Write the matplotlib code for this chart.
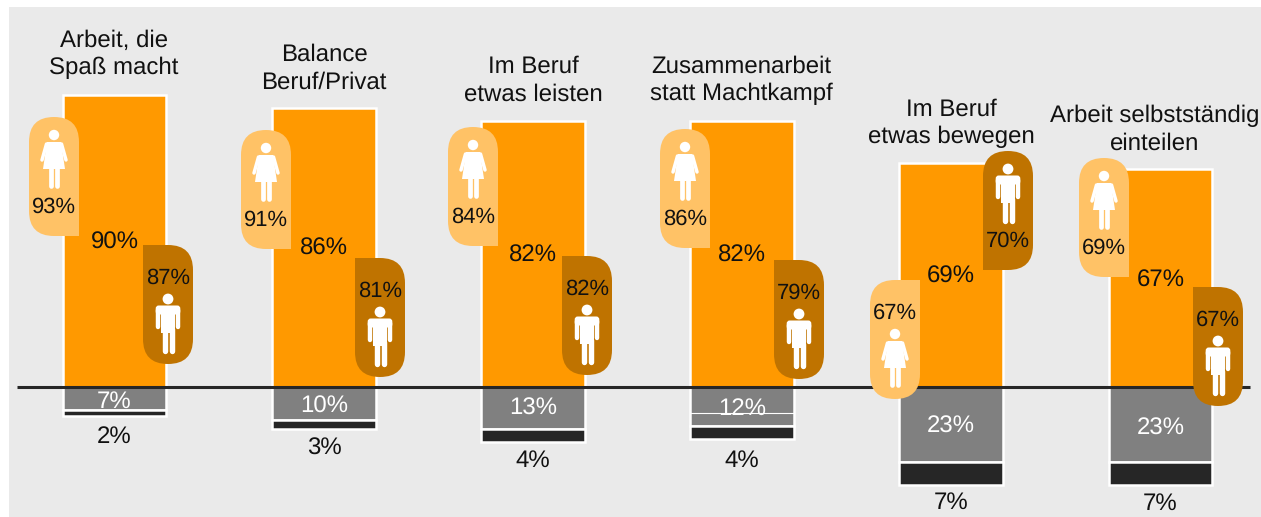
import matplotlib
matplotlib.use("Agg")
import matplotlib.pyplot as plt
from matplotlib.patches import Circle, FancyBboxPatch, PathPatch, Polygon, Rectangle
from matplotlib.path import Path

plt.rcParams["font.family"] = ["Liberation Sans", "DejaVu Sans"]
plt.rcParams["text.hinting"] = "no_hinting"
plt.rcParams["text.hinting_factor"] = 1

# values
titles = [
    "Arbeit, die\nSpaß macht",
    "Balance\nBeruf/Privat",
    "Im Beruf\netwas leisten",
    "Zusammenarbeit\nstatt Machtkampf",
    "Im Beruf\netwas bewegen",
    "Arbeit selbstständig\neinteilen",
]
total = [90, 86, 82, 82, 69, 67]
women = [93, 91, 84, 86, 67, 69]
men = [87, 81, 82, 79, 70, 67]
neg_grey = [7, 10, 13, 12, 23, 23]
neg_dark = [2, 3, 4, 4, 7, 7]

# layout, in pixels of the 1261x517 picture
W, H = 1261, 517
BASE_Y = 387
PX_PER_PCT = 3.25
bar_x = [114.5, 324, 533, 742, 951, 1160.5]
bar_w = 103.5
title_x = [114, 324, 533, 741, 951, 1155]
title_y = [54.5, 68.5, 80.5, 80.5, 123.5, 129.5]
total_y = [243, 249, 256, 256, 277, 281]
grey_y = [402, 407, 409, 409, 427, 429]
dark_y = [437, 449, 461, 461, 503, 504]
woman_x = [29, 241, 448, 660, 870, 1079]
woman_top = [117, 130, 127, 129, 280, 158]
woman_icon_first = [True, True, True, True, False, True]
man_x = [143, 355, 562, 774, 983, 1193]
man_top = [245, 258, 256, 260, 151, 287]
man_icon_first = [False, False, False, False, True, False]
PILL_W, PILL_H = 50, 119

ORANGE = "#FF9900"
LIGHT = "#FFC266"
BROWN = "#BF7300"
GREY = "#808080"
DARK = "#262626"
PANEL = "#EAEAEA"


def pill_path(x, y, square):
    # pill with one square corner, square is e.g. "br" (y runs downward)
    r = PILL_W / 2
    x2, y2 = x + PILL_W, y + PILL_H
    corners = [
        ("tl", (x, y), (x, y + r), (x + r, y)),
        ("tr", (x2, y), (x2 - r, y), (x2, y + r)),
        ("br", (x2, y2), (x2, y2 - r), (x2 - r, y2)),
        ("bl", (x, y2), (x + r, y2), (x, y2 - r)),
    ]
    verts, codes = [], []
    for name, corner, start, end in corners:
        if name == square:
            verts.append(corner)
            codes.append(Path.LINETO)
        else:
            verts += [start, corner, end]
            codes += [Path.LINETO, Path.CURVE3, Path.CURVE3]
    codes[0] = Path.MOVETO
    verts.append(verts[0])
    codes.append(Path.CLOSEPOLY)
    return Path(verts, codes)


def limb(ax, x1, y1, x2, y2, w):
    ax.plot([x1, x2], [y1, y2], color="white", lw=w, solid_capstyle="round", zorder=6)


def draw_woman(ax, cx, head_y):
    ax.add_patch(Circle((cx, head_y), 5.2, fc="white", ec="none", zorder=6))
    dress = [(cx - 7, head_y + 7), (cx + 7, head_y + 7), (cx + 11, head_y + 34), (cx - 11, head_y + 34)]
    ax.add_patch(Polygon(dress, closed=True, fc="white", ec="none", zorder=6))
    for s in (-1, 1):
        limb(ax, cx + s * 7.5, head_y + 9, cx + s * 12, head_y + 25, 2.5)
        limb(ax, cx + s * 3.4, head_y + 32, cx + s * 3.4, head_y + 51, 3.4)


def draw_man(ax, cx, head_y):
    ax.add_patch(Circle((cx, head_y), 5.4, fc="white", ec="none", zorder=6))
    ax.add_patch(
        FancyBboxPatch((cx - 12.3, head_y + 6.5), 24.6, 9, boxstyle="round,pad=0,rounding_size=3",
                       fc="white", ec="none", zorder=6)
    )
    ax.add_patch(Rectangle((cx - 7.2, head_y + 10), 14.4, 24, fc="white", ec="none", zorder=6))
    for s in (-1, 1):
        limb(ax, cx + s * 10.3, head_y + 11, cx + s * 10.3, head_y + 28, 3.2)
        limb(ax, cx + s * 3.5, head_y + 30, cx + s * 3.5, head_y + 52, 3.9)


def draw_pill(ax, x, top, value, color, icon_first, square, icon):
    ax.add_patch(PathPatch(pill_path(x, top, square), fc=color, ec="none", zorder=5))
    cx = x + PILL_W / 2
    text_y = top + (90 if icon_first else 33)
    icon(ax, cx, top + (18 if icon_first else 54))
    ax.text(cx, text_y, f"{value}%", fontsize=16, color="#111111", ha="center", va="center", zorder=7)


fig = plt.figure(figsize=(W / 100, H / 100), dpi=100, facecolor="white")
fig.add_artist(Rectangle((9 / W, 0), 1 - 9 / W, 1 - 7 / H, transform=fig.transFigure, fc=PANEL, ec="none", zorder=-1))

# bars: y axis in percent, zero on the baseline
ax = fig.add_axes([0, 0, 1, 1], facecolor="none")
ax.set_xlim(0, W)
ax.set_ylim((BASE_Y - H) / PX_PER_PCT, BASE_Y / PX_PER_PCT)
ax.axis("off")
ax.bar(bar_x, total, width=bar_w, color=ORANGE, edgecolor="white", linewidth=1.8)
ax.bar(bar_x, [-v for v in neg_grey], width=bar_w, color=GREY, edgecolor="white", linewidth=1.8)
ax.bar(bar_x, [-v for v in neg_dark], width=bar_w, bottom=[-v for v in neg_grey],
       color=DARK, edgecolor="white", linewidth=1.8)

# text, pills and icons: overlay in pixel coordinates
px = fig.add_axes([0, 0, 1, 1], facecolor="none")
px.set_xlim(0, W)
px.set_ylim(H, 0)
px.axis("off")

# stray hairline inside the grey part of the fourth bar
px.plot([bar_x[3] - bar_w / 2, bar_x[3] + bar_w / 2], [413, 413], color="white", lw=0.8, zorder=3)
px.plot([17, 1250], [BASE_Y, BASE_Y], color=DARK, lw=2.2, zorder=4, solid_capstyle="butt")

for i in range(len(titles)):
    px.text(title_x[i], title_y[i], titles[i], fontsize=17.2, color="#111111", ha="center", va="center",
            linespacing=1.3, zorder=7)
    px.text(bar_x[i], total_y[i], f"{total[i]}%", fontsize=17.5, color="#111111", ha="center", va="center", zorder=7)
    px.text(bar_x[i], grey_y[i], f"{neg_grey[i]}%", fontsize=17.5, color="white", ha="center", va="center", zorder=7)
    px.text(bar_x[i], dark_y[i], f"{neg_dark[i]}%", fontsize=17.5, color="#111111", ha="center", va="center", zorder=7)
    draw_pill(px, woman_x[i], woman_top[i], women[i], LIGHT, woman_icon_first[i],
              "br" if woman_icon_first[i] else "tr", draw_woman)
    draw_pill(px, man_x[i], man_top[i], men[i], BROWN, man_icon_first[i],
              "bl" if man_icon_first[i] else "tl", draw_man)

fig.savefig("out.png", dpi=100, facecolor="white")
plt.close(fig)
